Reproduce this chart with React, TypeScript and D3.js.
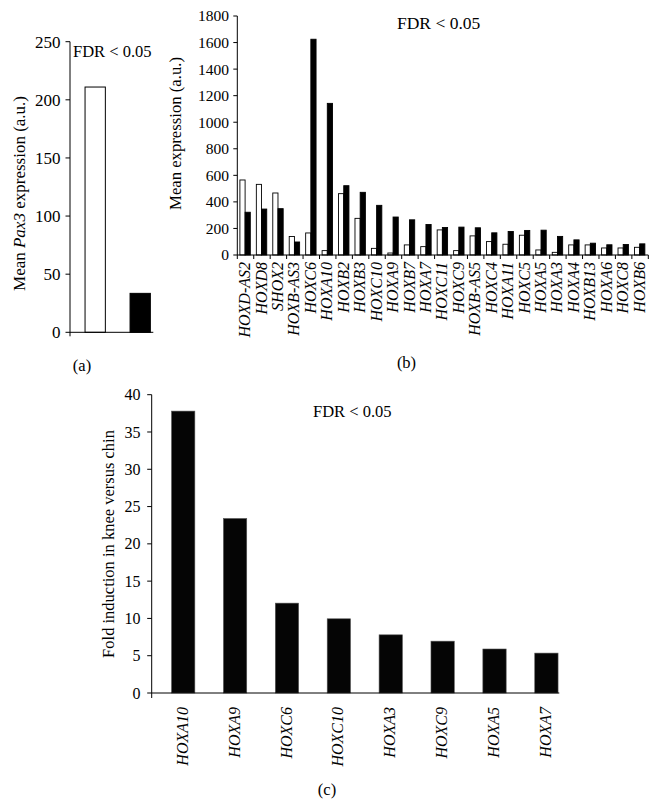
import React from "react";
import * as d3 from "d3";

const FONT = "'Liberation Serif', 'Times New Roman', Times, serif";

// Panel (a)
const aGroups = ["white", "black"];
const aValues = [211, 33.5];
const aTicks = [0, 50, 100, 150, 200, 250];

// Panel (b)
const bGenes = [
  "HOXD-AS2", "HOXD8", "SHOX2", "HOXB-AS3", "HOXC6", "HOXA10", "HOXB2", "HOXB3",
  "HOXC10", "HOXA9", "HOXB7", "HOXA7", "HOXC11", "HOXC9", "HOXB-AS5", "HOXC4",
  "HOXA11", "HOXC5", "HOXA5", "HOXA3", "HOXA4", "HOXB13", "HOXA6", "HOXC8", "HOXB6",
];
const bWhite = [565, 532, 467, 139, 166, 33, 462, 276, 50, 15, 76, 63, 189, 33, 144, 101, 81, 149, 38, 20, 76, 76, 53, 53, 58];
const bBlack = [322, 346, 349, 98, 1625, 1142, 522, 472, 374, 286, 265, 230, 207, 210, 205, 167, 177, 185, 187, 140, 114, 89, 77, 79, 84];
const bTicks = [0, 200, 400, 600, 800, 1000, 1200, 1400, 1600, 1800];

// Panel (c)
const cGenes = ["HOXA10", "HOXA9", "HOXC6", "HOXC10", "HOXA3", "HOXC9", "HOXA5", "HOXA7"];
const cValues = [37.8, 23.4, 12.05, 9.95, 7.8, 6.95, 5.9, 5.35];
const cTicks = [0, 5, 10, 15, 20, 25, 30, 35, 40];

function PanelA() {
  const x0 = 70, x1 = 153.3;
  const y = d3.scaleLinear().domain([0, 250]).range([332.3, 41.7]);
  const x = d3.scalePoint<string>().domain(aGroups).range([95.2, 140.2]);
  const bw = 20.3;
  return (
    <g>
      {aGroups.map((g, i) => (
        <rect key={g} x={(x(g) as number) - bw / 2} y={y(aValues[i])} width={bw}
          height={y(0) - y(aValues[i])}
          fill={i === 0 ? "#fff" : "#000"} stroke="#000" strokeWidth={1} />
      ))}
      <line x1={x0} x2={x0} y1={y(250)} y2={y(0) + 4} stroke="#000" />
      <line x1={x0} x2={x1} y1={y(0)} y2={y(0)} stroke="#000" />
      {aTicks.map((t) => (
        <g key={t}>
          <line x1={x0 - 4.5} x2={x0} y1={y(t)} y2={y(t)} stroke="#000" />
          <text x={60.5} y={y(t)} dy="0.35em" textAnchor="end" fontSize={17} fontFamily={FONT}>{t}</text>
        </g>
      ))}
      <text transform={`translate(24.5,${193.5}) rotate(-90)`} textAnchor="middle" fontSize={17} fontFamily={FONT}>
        Mean <tspan fontStyle="italic">Pax3</tspan> expression (a.u.)
      </text>
      <text x={73} y={57} fontSize={16.5} fontFamily={FONT}>FDR &lt; 0.05</text>
      <text x={82} y={365.5} dy="0.35em" textAnchor="middle" fontSize={16.5} fontFamily={FONT}>(a)</text>
    </g>
  );
}

function PanelB() {
  const x0 = 237.3, x1 = 648.3;
  const y = d3.scaleLinear().domain([0, 1800]).range([255, 16]);
  const x = d3.scaleBand<string>().domain(bGenes).range([x0, x1]);
  const step = x.step();
  const bw = 5.2;
  const off = 2.6;
  return (
    <g>
      {bGenes.map((g, i) => {
        const bx = x(g) as number;
        return (
          <g key={g}>
            <rect x={bx + off} y={y(bWhite[i])} width={bw} height={y(0) - y(bWhite[i])}
              fill="#fff" stroke="#000" strokeWidth={0.9} />
            <rect x={bx + off + bw} y={y(bBlack[i])} width={bw} height={y(0) - y(bBlack[i])}
              fill="#000" stroke="#000" strokeWidth={0.9} />
          </g>
        );
      })}
      <line x1={x0} x2={x0} y1={y(1800)} y2={y(0)} stroke="#000" />
      <line x1={x0} x2={x1} y1={y(0)} y2={y(0)} stroke="#000" />
      {bGenes.map((g) => (
        <line key={"t" + g} x1={(x(g) as number)} x2={(x(g) as number)} y1={y(0)} y2={y(0) + 4} stroke="#000" />
      ))}
      <line x1={x1} x2={x1} y1={y(0)} y2={y(0) + 4} stroke="#000" />
      {bTicks.map((t) => (
        <g key={t}>
          <line x1={x0 - 4} x2={x0} y1={y(t)} y2={y(t)} stroke="#000" />
          <text x={229} y={y(t)} dy="0.35em" textAnchor="end" fontSize={15.5} fontFamily={FONT}>{t}</text>
        </g>
      ))}
      {bGenes.map((g) => (
        <text key={"l" + g} transform={`translate(${(x(g) as number) + step / 2 - 1},262) rotate(-90)`}
          dy="0.35em" textAnchor="end" fontSize={16} fontStyle="italic" fontFamily={FONT}>{g}</text>
      ))}
      <text transform={`translate(180.5,${133.5}) rotate(-90)`} textAnchor="middle" fontSize={16.7} fontFamily={FONT}>
        Mean expression (a.u.)
      </text>
      <text x={397} y={29} fontSize={17.5} fontFamily={FONT}>FDR &lt; 0.05</text>
      <text x={406.5} y={362} dy="0.35em" textAnchor="middle" fontSize={16.5} fontFamily={FONT}>(b)</text>
    </g>
  );
}

function PanelC() {
  const x0 = 151.7, x1 = 559.3;
  const y = d3.scaleLinear().domain([0, 40]).range([693, 394.7]);
  const x = d3.scalePoint<string>().domain(cGenes).range([183.2, 546.4]);
  const bw = 23.3;
  return (
    <g>
      {cGenes.map((g, i) => (
        <rect key={g} x={(x(g) as number) - bw / 2} y={y(cValues[i])} width={bw}
          height={y(0) - y(cValues[i])} fill="#050505" stroke="#555" strokeWidth={0.6} />
      ))}
      <line x1={x0} x2={x0} y1={y(40)} y2={y(0) + 5} stroke="#000" />
      <line x1={x0} x2={x1} y1={y(0)} y2={y(0)} stroke="#000" />
      {cTicks.map((t) => (
        <g key={t}>
          <line x1={x0 - 4.5} x2={x0} y1={y(t)} y2={y(t)} stroke="#000" />
          <text x={140.5} y={y(t)} dy="0.35em" textAnchor="end" fontSize={16} fontFamily={FONT}>{t}</text>
        </g>
      ))}
      {cGenes.map((g) => (
        <text key={"l" + g} transform={`translate(${(x(g) as number) - 1},707) rotate(-90)`}
          dy="0.35em" textAnchor="end" fontSize={16} fontStyle="italic" fontFamily={FONT}>{g}</text>
      ))}
      <text transform={`translate(113.5,${544}) rotate(-90)`} textAnchor="middle" fontSize={16.5} fontFamily={FONT}>
        Fold induction in knee versus chin
      </text>
      <text x={313} y={417} fontSize={16.5} fontFamily={FONT}>FDR &lt; 0.05</text>
      <text x={327} y={789} dy="0.35em" textAnchor="middle" fontSize={16.5} fontFamily={FONT}>(c)</text>
    </g>
  );
}

export default function App() {
  return (
    <div style={{ position: "absolute", left: 0, top: 0 }}>
      <svg width={659} height={806} style={{ display: "block", background: "#fff" }}>
        <rect width={659} height={806} fill="#fff" />
        <PanelA />
        <PanelB />
        <PanelC />
      </svg>
    </div>
  );
}
